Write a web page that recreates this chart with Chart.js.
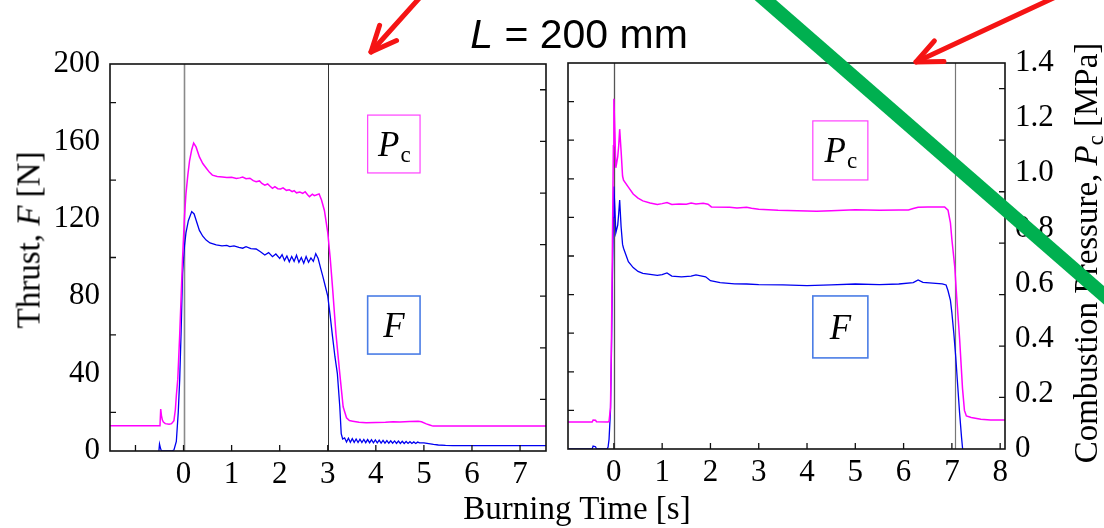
<!DOCTYPE html>
<html><head><meta charset="utf-8">
<script src="https://cdn.jsdelivr.net/npm/chart.js@4.4.1/dist/chart.umd.min.js"></script>
<style>
html,body{margin:0;padding:0;background:#fff;}
#wrap{position:relative;width:1104px;height:528px;overflow:hidden;background:#fff;}
canvas{position:absolute;top:0;}
#c1{left:0;} #c2{left:560px;} #ov{left:0;pointer-events:none;z-index:5;}
.t{position:absolute;white-space:nowrap;color:#000;line-height:1;}
.serif{font-family:"Liberation Serif","Times New Roman",serif;font-size:33px;}
#title{font-family:"Liberation Sans",Arial,sans-serif;font-size:41px;left:579px;top:34px;transform:translate(-50%,-50%);}
#ylab{left:29px;top:240px;transform:translate(-50%,-50%) rotate(-90deg);}
#xlab{left:577px;top:508px;transform:translate(-50%,-50%);}
#y2lab{left:1086px;top:253px;transform:translate(-50%,-50%) rotate(-90deg);}
.sub{font-size:0.68em;position:relative;top:0.28em;}
</style></head>
<body>
<div id="wrap">
<canvas id="c1" width="560" height="528"></canvas>
<canvas id="c2" width="544" height="528"></canvas>
<div id="title" class="t"><i>L</i> = 200 mm</div>
<div id="ylab" class="t serif">Thrust, <i>F</i> [N]</div>
<div id="xlab" class="t serif">Burning Time [s]</div>
<div id="y2lab" class="t serif">Combustion Pressure, <i>P</i><span class="sub">c</span> [MPa]</div>
<canvas id="ov" width="1104" height="528"></canvas>
</div>
<script>
// ---- data (time [s], value) ----
const leftPressure = [[-1.53,0.0915],[-0.49,0.0915],[-0.475,0.152],[-0.46,0.128],[-0.44,0.112],[-0.42,0.105],[-0.38,0.099],[-0.3,0.097],[-0.25,0.099],[-0.2,0.11],[-0.17,0.15],[-0.15,0.2],[-0.12,0.26],[-0.08,0.42],[-0.05,0.56],[-0.02,0.7],[0.02,0.85],[0.05,0.93],[0.09,1.0],[0.125,1.05],[0.17,1.09],[0.21,1.114],[0.26,1.1],[0.33,1.064],[0.4,1.04],[0.47,1.024],[0.54,1.008],[0.6,0.998],[0.7,0.993],[0.81,0.991],[0.9,0.989],[1.0,0.99],[1.1,0.986],[1.17,0.988],[1.23,0.991],[1.3,0.985],[1.38,0.987],[1.45,0.978],[1.51,0.974],[1.58,0.977],[1.63,0.968],[1.69,0.962],[1.75,0.966],[1.8,0.958],[1.85,0.95],[1.9,0.956],[1.96,0.949],[2.02,0.948],[2.07,0.952],[2.14,0.943],[2.2,0.945],[2.26,0.938],[2.3,0.942],[2.35,0.934],[2.42,0.937],[2.48,0.932],[2.53,0.938],[2.58,0.927],[2.62,0.92],[2.68,0.929],[2.72,0.924],[2.76,0.926],[2.82,0.93],[2.87,0.908],[2.93,0.87],[3.0,0.79],[3.05,0.7],[3.1,0.59],[3.17,0.425],[3.25,0.28],[3.32,0.16],[3.39,0.12],[3.45,0.11],[3.52,0.108],[3.65,0.104],[3.8,0.102],[4.0,0.103],[4.2,0.104],[4.36,0.106],[4.5,0.105],[4.7,0.107],[4.88,0.108],[4.95,0.106],[5.05,0.098],[5.12,0.094],[5.19,0.09],[7.54,0.09]];
const leftThrust = [[-0.52,-2],[-0.5,3.6],[-0.48,1.5],[-0.46,0],[-0.25,0],[-0.2,0.5],[-0.15,5],[-0.11,20],[-0.08,37],[-0.05,62],[-0.02,92],[0.02,106],[0.05,112.7],[0.1,119],[0.17,123.7],[0.22,122.5],[0.26,119.4],[0.33,114],[0.4,111],[0.47,109],[0.55,107.5],[0.68,106.5],[0.8,106],[0.9,106.3],[0.96,105.6],[1.05,106],[1.15,105.2],[1.23,104.8],[1.3,105.6],[1.4,104.6],[1.51,104.4],[1.6,103],[1.69,101.3],[1.77,102.5],[1.85,100.4],[1.92,101.8],[2.0,99.5],[2.05,101.5],[2.1,98.5],[2.15,100.8],[2.2,97.8],[2.25,100.5],[2.3,98],[2.35,101.2],[2.4,97.5],[2.45,100],[2.5,97],[2.55,100.5],[2.6,97.5],[2.65,99.8],[2.7,98],[2.75,102],[2.8,99.5],[2.85,94.6],[2.9,90],[2.95,85],[3.0,80],[3.05,70],[3.1,59],[3.15,48.6],[3.2,40],[3.25,23],[3.28,9],[3.31,6.2],[3.35,6.8],[3.39,4.6],[3.43,6.6],[3.47,4.5],[3.51,6.4],[3.55,4.5],[3.59,6.2],[3.63,4.4],[3.67,6.1],[3.71,4.4],[3.75,6.0],[3.79,4.3],[3.83,5.9],[3.87,4.3],[3.91,5.8],[3.95,4.2],[3.99,5.7],[4.03,4.2],[4.07,5.6],[4.11,4.1],[4.15,5.5],[4.19,4.1],[4.23,5.4],[4.27,4.0],[4.31,5.3],[4.35,4.0],[4.39,5.2],[4.43,3.9],[4.47,5.1],[4.51,3.9],[4.55,5.0],[4.59,3.9],[4.63,4.9],[4.67,3.9],[4.71,4.8],[4.75,3.9],[4.79,4.7],[4.83,3.9],[4.87,4.6],[4.91,4.2],[5.0,4.2],[5.1,3.8],[5.2,3.4],[5.3,3.1],[5.45,2.9],[5.6,2.8],[7.54,2.8]];
const rightPressure = [[-0.95,0.098],[-0.45,0.098],[-0.43,0.105],[-0.38,0.104],[-0.36,0.099],[-0.12,0.098],[-0.1,0.1],[-0.07,0.15],[-0.05,0.4],[-0.03,0.75],[-0.01,1.1],[0.0,1.27],[0.02,1.15],[0.04,1.02],[0.06,1.04],[0.08,1.06],[0.1,1.1],[0.12,1.16],[0.15,1.08],[0.18,0.99],[0.2,0.975],[0.3,0.95],[0.4,0.925],[0.5,0.91],[0.6,0.9],[0.75,0.892],[0.9,0.887],[1.0,0.89],[1.1,0.894],[1.2,0.887],[1.35,0.889],[1.5,0.888],[1.6,0.892],[1.7,0.889],[1.85,0.891],[1.95,0.888],[2.02,0.878],[2.4,0.877],[2.55,0.874],[2.75,0.877],[2.85,0.873],[3.0,0.87],[3.4,0.866],[3.8,0.864],[4.2,0.862],[4.5,0.864],[5.0,0.868],[5.5,0.866],[5.9,0.867],[6.1,0.867],[6.2,0.872],[6.3,0.877],[6.5,0.878],[6.85,0.878],[6.92,0.866],[6.97,0.82],[7.0,0.76],[7.06,0.66],[7.1,0.55],[7.16,0.4],[7.22,0.22],[7.26,0.14],[7.3,0.12],[7.4,0.114],[7.6,0.108],[7.8,0.105],[8.1,0.105]];
const rightThrust = [[-0.95,0],[-0.45,0],[-0.43,1.5],[-0.38,1.2],[-0.36,0],[-0.14,0],[-0.12,1],[-0.1,5],[-0.07,20],[-0.05,50],[-0.03,90],[-0.01,120],[0.0,136],[0.02,125],[0.04,112],[0.06,114],[0.08,116],[0.1,122],[0.12,129],[0.15,115],[0.18,106],[0.2,104],[0.3,97],[0.4,94],[0.5,92],[0.6,91],[0.75,90.5],[0.9,90],[1.0,90.3],[1.1,91.2],[1.2,89.6],[1.4,89.2],[1.6,89.6],[1.7,90.2],[1.9,89.2],[2.0,87.2],[2.2,86.2],[2.5,85.6],[2.75,85.5],[3.0,85.2],[3.5,85],[4.0,84.6],[4.5,85],[5.0,85.5],[5.5,85.2],[5.9,85.5],[6.2,86.2],[6.3,87.6],[6.4,86.3],[6.8,85.6],[6.88,85],[6.92,82],[6.97,77],[7.0,70.5],[7.04,60],[7.08,47.7],[7.12,33],[7.16,18.6],[7.2,6],[7.23,-2],[7.26,-10]];

// ---- ticks / labels ----
const leftTimeTicks = [0,1,2,3,4,5,6,7];
const rightTimeTicks = [0,1,2,3,4,5,6,7,8];
const thrustTicks = [0,40,80,120,160,200];
const pressureTicks = [0,0.2,0.4,0.6,0.8,1.0,1.2,1.4];
const pressureLabels = ['0','0.2','0.4','0.6','0.8','1.0','1.2','1.4'];
const leftTimeMarks = [-1,0,1,2,3,4,5,6,7];
const rightTimeMarks = [0,1,2,3,4,5,6,7,8];
const leftEdgeMarksL = [20,60,100,140,180];
const leftEdgeMarksR = [20,40,60,80,100,120,140,160,180];
const rightEdgeMarks = [26.7,53.3,80,106.7,133.3,160,186.7];
const leftEvents = [0,3];
const rightEvents = [0,7.06];

const serif = '"Liberation Serif","Times New Roman",serif';
const MAG = '#ff00ff', BLU = '#0000f0';
const xy = arr => arr.map(p => ({x:p[0], y:p[1]}));

function panelPlugin(cfg){
  return {
    id:'panel',
    beforeDatasetsDraw(chart){
      const {ctx, chartArea:a} = chart; const x = chart.scales.x;
      ctx.save();
      cfg.events.forEach((v,i)=>{
        const px = Math.round(x.getPixelForValue(v))+0.5;
        ctx.strokeStyle = cfg.eventColors[i]; ctx.lineWidth = cfg.eventWidths[i];
        ctx.beginPath(); ctx.moveTo(px,a.top); ctx.lineTo(px,a.bottom); ctx.stroke();
      });
      ctx.restore();
    },
    afterDatasetsDraw(chart){
      const {ctx, chartArea:a} = chart; const x = chart.scales.x, y = chart.scales.y;
      ctx.save();
      ctx.strokeStyle = '#111'; ctx.lineWidth = 1.6;
      ctx.strokeRect(a.left, a.top, a.right-a.left, a.bottom-a.top);
      ctx.lineWidth = 1.3; ctx.beginPath();
      cfg.xMarks.forEach(v=>{ const px=x.getPixelForValue(v); ctx.moveTo(px,a.bottom); ctx.lineTo(px,a.bottom-6); });
      cfg.leftMarks.forEach(v=>{ const py=y.getPixelForValue(v); ctx.moveTo(a.left,py); ctx.lineTo(a.left+6,py); });
      cfg.rightMarks.forEach(v=>{ const py=y.getPixelForValue(v); ctx.moveTo(a.right,py); ctx.lineTo(a.right-6,py); });
      ctx.stroke();
      cfg.boxes.forEach(b=>{
        const x0=x.getPixelForValue(b.x0), x1=x.getPixelForValue(b.x1);
        const y0=y.getPixelForValue(b.y0), y1=y.getPixelForValue(b.y1);
        ctx.fillStyle='#fff'; ctx.fillRect(x0,y0,x1-x0,y1-y0);
        ctx.strokeStyle=b.color; ctx.lineWidth=b.width;
        ctx.strokeRect(x0,y0,x1-x0,y1-y0);
        const cx=(x0+x1)/2, cy=(y0+y1)/2;
        ctx.fillStyle='#000'; ctx.textBaseline='alphabetic'; ctx.textAlign='left';
        ctx.font = 'italic 35px '+serif;
        const wM = ctx.measureText(b.main).width;
        let wS = 0;
        if(b.sub){ ctx.font = '23px '+serif; wS = ctx.measureText(b.sub).width; }
        const start = cx - (wM+wS)/2;
        const base = cy + 12;
        ctx.font = 'italic 35px '+serif; ctx.fillText(b.main, start, base);
        if(b.sub){ ctx.font='23px '+serif; ctx.fillText(b.sub, start+wM+1, base+6); }
      });
      ctx.restore();
    }
  };
}

const tickFont = {family: serif, size: 31};
const common = {responsive:false, animation:false, devicePixelRatio:1,
  plugins:{legend:{display:false}, tooltip:{enabled:false}}};

new Chart(document.getElementById('c1'), {
  type:'line',
  data:{datasets:[
    {data: xy(leftPressure), yAxisID:'yP', borderColor:MAG, borderWidth:1.5, pointRadius:0, tension:0},
    {data: xy(leftThrust), yAxisID:'y', borderColor:BLU, borderWidth:1.3, pointRadius:0, tension:0}
  ]},
  options:Object.assign({}, common, {
    layout:{autoPadding:false, padding:{left:0, top:64, right:14, bottom:0}},
    scales:{
      x:{type:'linear', min:-1.53, max:7.54,
         afterBuildTicks:s=>{ s.ticks = leftTimeTicks.map(v=>({value:v})); },
         afterFit:s=>{ s.height = 77; },
         ticks:{font:tickFont, color:'#000', padding:5, maxRotation:0, autoSkip:false, callback:v=>String(v)},
         grid:{display:false, drawTicks:false}, border:{display:false}},
      y:{type:'linear', min:0, max:200, position:'left',
         afterBuildTicks:s=>{ s.ticks = thrustTicks.map(v=>({value:v})); },
         afterFit:s=>{ s.width = 110; },
         ticks:{font:tickFont, color:'#000', padding:10, callback:v=>String(v)},
         grid:{display:false, drawTicks:false}, border:{display:false}},
      yP:{type:'linear', min:0, max:1.4, display:false}
    }
  }),
  plugins:[panelPlugin({events:leftEvents, eventColors:['#8a8a8a','#333'], eventWidths:[1.6,1],
    xMarks:leftTimeMarks, leftMarks:leftEdgeMarksL, rightMarks:rightEdgeMarks,
    boxes:[{x0:3.83,x1:4.92,y0:173.6,y1:143.7,color:'#ff40ff',width:1.2,main:'P',sub:'c'},
           {x0:3.83,x1:4.92,y0:80.1,y1:50.1,color:'#4a7de6',width:1.6,main:'F'}]})]
});

new Chart(document.getElementById('c2'), {
  type:'line',
  data:{datasets:[
    {data: xy(rightPressure), yAxisID:'yP', borderColor:MAG, borderWidth:1.5, pointRadius:0, tension:0},
    {data: xy(rightThrust), yAxisID:'y', borderColor:BLU, borderWidth:1.3, pointRadius:0, tension:0}
  ]},
  options:Object.assign({}, common, {
    layout:{autoPadding:false, padding:{left:8, top:63, right:0, bottom:0}},
    scales:{
      x:{type:'linear', min:-0.95, max:8.1,
         afterBuildTicks:s=>{ s.ticks = rightTimeTicks.map(v=>({value:v})); },
         afterFit:s=>{ s.height = 79; },
         ticks:{font:tickFont, color:'#000', padding:5, maxRotation:0, autoSkip:false, callback:v=>String(v)},
         grid:{display:false, drawTicks:false}, border:{display:false}},
      y:{type:'linear', min:0, max:200, position:'left', display:false},
      yP:{type:'linear', min:0, max:1.4, position:'right',
         afterBuildTicks:s=>{ s.ticks = pressureTicks.map(v=>({value:v})); },
         afterFit:s=>{ s.width = 99; },
         ticks:{font:tickFont, color:'#000', padding:10, callback:(v,i)=>pressureLabels[i]},
         grid:{display:false, drawTicks:false}, border:{display:false}}
    }
  }),
  plugins:[panelPlugin({events:rightEvents, eventColors:['#555','#777'], eventWidths:[1.3,1.2],
    xMarks:rightTimeMarks, leftMarks:leftEdgeMarksR, rightMarks:rightEdgeMarks,
    boxes:[{x0:4.12,x1:5.26,y0:170,y1:139.4,color:'#ff40ff',width:1.2,main:'P',sub:'c'},
           {x0:4.12,x1:5.26,y0:79.3,y1:47.2,color:'#4a7de6',width:1.6,main:'F'}]})]
});

// ---- overlay annotations (green stroke, red arrows) ----
const o = document.getElementById('ov').getContext('2d');
o.strokeStyle = '#00b050'; o.lineWidth = 14; o.lineCap = 'butt';
o.beginPath(); o.moveTo(755,-9); o.lineTo(1114,304); o.stroke();
function arrow(tx,ty,ex,ey){
  const ang = Math.atan2(ey-ty, ex-tx), L = 28, sp = 24*Math.PI/180;
  o.strokeStyle = '#f51414'; o.lineWidth = 5; o.lineCap = 'round'; o.lineJoin='round';
  o.beginPath(); o.moveTo(ex,ey); o.lineTo(tx,ty); o.stroke();
  o.beginPath();
  o.moveTo(tx+L*Math.cos(ang+sp), ty+L*Math.sin(ang+sp)); o.lineTo(tx,ty);
  o.lineTo(tx+L*Math.cos(ang-sp), ty+L*Math.sin(ang-sp)); o.stroke();
}
arrow(371,52,432,-16);
arrow(916,62,1062,-6);
</script>
</body></html>
